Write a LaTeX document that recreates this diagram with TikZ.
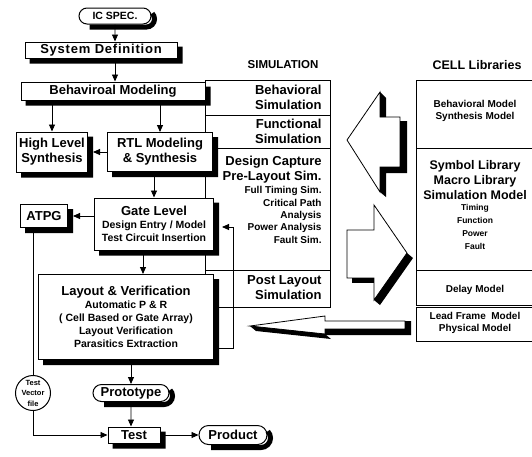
\documentclass[tikz,border=0pt]{standalone}
\usepackage{fontspec}
\setmainfont{Liberation Sans}
\usepackage{tikz}
\usetikzlibrary{arrows.meta,shapes.misc,calc}

\newcommand\bigtxt{\bfseries\fontsize{13}{15}\selectfont}
\newcommand\headtxt{\bfseries\fontsize{11.5}{14}\selectfont}
\newcommand\midtxt{\bfseries\fontsize{10.5}{13}\selectfont}
\newcommand\smalltxt{\bfseries\fontsize{10}{12.3}\selectfont}
\newcommand\celltxt{\bfseries\fontsize{10}{12.5}\selectfont}
\newcommand\tinytxt{\bfseries\fontsize{8.5}{12.7}\selectfont}
\newcommand\vectxt{\bfseries\fontsize{7.5}{10.5}\selectfont}

\tikzset{
  box/.style={draw,fill=white,line width=1pt,inner sep=1pt,align=center},
  term/.style={box,rounded rectangle},
  simtext/.style={inner sep=1pt,align=right,anchor=east},
  celltext/.style={inner sep=1pt,align=center},
  bigarrow/.style={draw,fill=white,line width=0.8pt},
}

\begin{document}
\begin{tikzpicture}[x=1pt,y=-1pt,line width=0.9pt,>={Triangle[length=7pt,width=6pt]}]
      \useasboundingbox (0,0) rectangle (532,456);
      % simulation column
      \draw (205,80) rectangle (330,307);
      \draw (205,115) -- (330,115);
      \draw (205,148) -- (330,148);
      \draw (205,270) -- (330,270);
      % cell libraries column
      \draw (532,80) -- (416,80) -- (416,305) -- (532,305);
      \draw (416,148) -- (532,148);
      \draw (416,270) -- (532,270);
      \draw (532,307) -- (416,307) -- (416,341) -- (532,341);
      % big arrows
      \filldraw[bigarrow] (347,140) -- (380,92) -- (380,117) -- (400,117) -- (400,167)
        -- (380,167) -- (380,192) -- cycle;
      \fill[black] (400,121) -- (407,121) -- (407,173) -- (386,173) -- (386,197) -- (380,192)
        -- (380,167) -- (400,167) -- cycle;
      \fill[black] (380,92) -- (386,98) -- (386,117) -- (380,117) -- cycle;
      \filldraw[bigarrow] (347,230) -- (374,230) -- (374,205) -- (407,253) -- (374,300)
        -- (374,278) -- (347,278) -- cycle;
      \fill[black] (407,253) -- (413,258) -- (380,305) -- (374,300) -- cycle;
      \fill[black] (352,278) -- (374,278) -- (374,283) -- (352,283) -- cycle;
      \filldraw[bigarrow] (250,326) -- (325,316) -- (325,321) -- (405,321) -- (405,329)
        -- (325,329) -- (325,334) -- cycle;
      \fill[black] (256,331) -- (250,326) -- (325,334) -- (331,339) -- cycle;
      \fill[black] (325,329) -- (405,329) -- (405,321) -- (411,321) -- (411,335) -- (325,335) -- cycle;

      \node[term,font=\midtxt,minimum width=74pt,minimum height=16pt] (115 16) at (115,16) {IC SPEC.};
      \node[box,font=\bigtxt\addfontfeature{LetterSpace=6},minimum width=152pt,minimum height=16pt] (101 50) at (101,50) {System Definition};
      \node[box,font=\bigtxt,minimum width=184pt,minimum height=18pt] (113 91) at (113,91) {Behaviroal Modeling};
      \node[box,font=\bigtxt,minimum width=71pt,minimum height=40pt] (52 152) at (52,152) {High Level\\Synthesis};
      \node[box,font=\bigtxt,minimum width=105pt,minimum height=39pt] (160 152) at (160,152) {RTL Modeling\\\& Synthesis};
      \node[box,font=\bigtxt,minimum width=47pt,minimum height=23pt] (44 216) at (44,216) {ATPG};
      \node[box,font=\midtxt,minimum width=119pt,minimum height=52pt] (154 224) at (154,224)
        {{\bigtxt Gate Level}\\Design Entry / Model\\Test Circuit Insertion};
      \node[box,font=\midtxt,minimum width=175pt,minimum height=85pt] (126 317) at (126,317)
        {{\bigtxt Layout \& Verification}\\Automatic P \& R\\( Cell Based or Gate Array)\\Layout Verification\\Parasitics Extraction};
      \node[term,font=\bigtxt,minimum width=78pt,minimum height=17pt] (131 393) at (131,393) {Prototype};
      \node[box,font=\bigtxt,minimum width=52pt,minimum height=16pt] (134 435) at (134,435) {Test};
      \node[term,font=\bigtxt,minimum width=70pt,minimum height=19pt] (233 435) at (233,435) {Product};
      \node[draw,circle,fill=white,line width=1pt,minimum size=35pt,inner sep=0pt,align=center,font=\vectxt]
        (33 393) at (33,393) {Test\\Vector\\file};

      % shadows, drawn round the right and lower sides
      \foreach \n in {101 50,113 91,52 152,160 152,44 216,154 224,126 317,134 435}
        \fill[black] ($(\n.north east)+(0,5)$) -- ($(\n.north east)+(5,5)$) -- ($(\n.south east)+(5,5)$)
          -- ($(\n.south west)+(5,5)$) -- ($(\n.south west)+(5,0)$) -- (\n.south east) -- cycle;
      \foreach \n/\r in {115 16/8,131 393/8.5,233 435/9.5}
        \draw[black,line width=5pt] ($(\n.east)+({-\r+3+0.707*\r},{3-0.707*\r})$)
          arc[start angle=-45,end angle=90,radius=\r] -- ($(\n.west)+({\r+3},{\r+3})$);

      \node[font=\headtxt] (283 65) at (283,65) {SIMULATION};
      \node[font=\bfseries\fontsize{12.5}{14}\selectfont] (477 65) at (477,65) {CELL Libraries};

      \node[simtext,font=\bigtxt] (323 97) at (323,97) {Behavioral\\Simulation};
      \node[simtext,font=\bigtxt] (323 131) at (323,131) {Functional\\Simulation};
      \node[simtext,font=\bigtxt] (323 170) at (323,170) {Design Capture\\Pre-Layout Sim.};
      \node[simtext,font=\smalltxt] (323 215) at (323,215)
        {Full Timing Sim.\\Critical Path\hspace{6pt}\\Analysis\\Power Analysis\\Fault Sim.};
      \node[simtext,font=\bigtxt] (323 288) at (323,288) {Post Layout\\Simulation};

      \node[celltext,font=\celltxt] (475 111) at (475,111) {Behavioral Model\\Synthesis Model};
      \node[celltext,font=\bfseries\fontsize{12.5}{15}\selectfont] (475 180) at (475,180)
        {Symbol Library\\Macro Library\\Simulation Model};
      \node[celltext,font=\tinytxt] (475 227) at (475,227) {Timing\\Function\\Power\\Fault};
      \node[celltext,font=\celltxt] (475 290) at (475,290) {Delay Model};
      \node[celltext,font=\celltxt] (475 323) at (475,323) {Lead Frame~~Model\\Physical Model};

      % flow
      \draw[->] (115 16) -- (115 16 |- 101 50.north);
      \draw[->] (115 16 |- 101 50.south) -- (115 16 |- 113 91.north);
      \draw[->] (52 152 |- 113 91.south) -- (52 152);
      \draw[->] (160 152 |- 113 91.south) -- (160 152);
      \draw[->,shorten >=5pt] (160 152) -- (52 152);
      \draw[->] (154 224 |- 160 152.south) -- (154 224);
      \draw[->,shorten >=5pt] (154 224.west |- 44 216) -- (44 216);
      \path (154 224.south) ++(-11pt,0) coordinate (143 250);
      \draw[->] (143 250) -- (143 250 |- 126 317.north);
      \draw[->] (131 393 |- 126 317.south) -- (131 393);
      \draw[->] (131 393) -- (131 393 |- 134 435.north);
      \draw[->] (134 435) -- (233 435);
      \draw (33 393 |- 44 216.south) -- (33 393);
      \draw[->] (33 393) |- (134 435);
      \coordinate (233 348) at (233,348);
      \coordinate (233 227) at (233,227);
      \coordinate (222 227) at (222,227);
      \draw[->] (126 317.east |- 233 348) -- (233 348) -- (233 227) -- (222 227);
    \end{tikzpicture}
\end{document}
